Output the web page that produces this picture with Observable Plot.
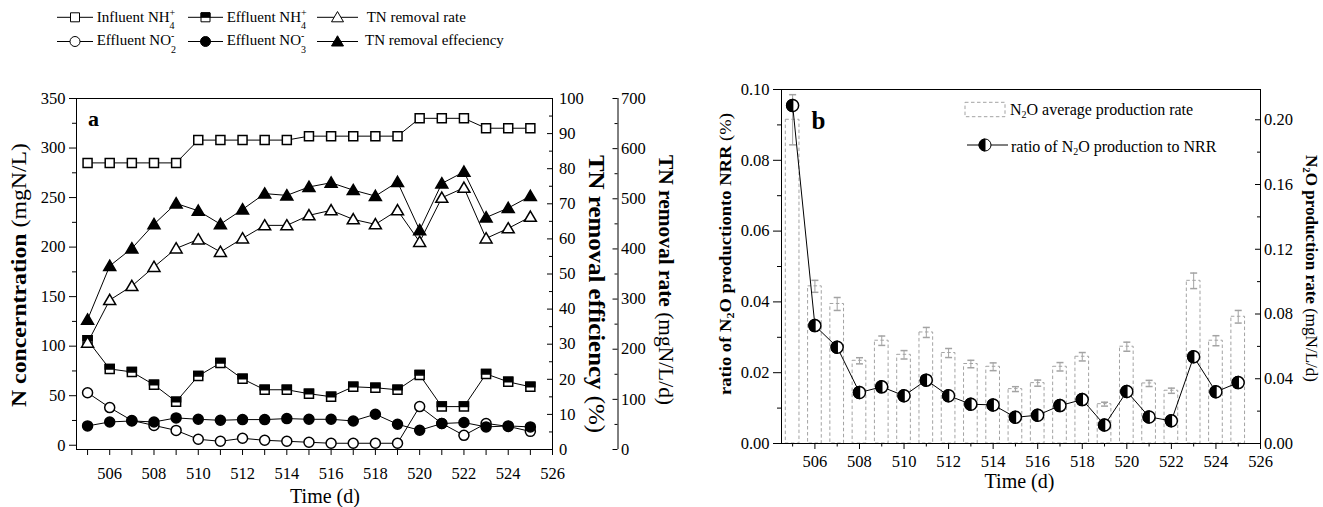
<!DOCTYPE html>
<html><head><meta charset="utf-8">
<script src="https://cdn.jsdelivr.net/npm/d3@7"></script>
<script src="https://cdn.jsdelivr.net/npm/@observablehq/plot@0.6"></script>
<style>
html,body{margin:0;padding:0;background:#fff;}
#chart{position:relative;width:1323px;height:507px;overflow:hidden;background:#fff;}
#chart svg{position:absolute;left:0;top:0;}
</style></head><body><div id="chart"></div>
<script>
// ---------------- data ----------------
const days = [505,506,507,508,509,510,511,512,513,514,515,516,517,518,519,520,521,522,523,524,525];
// panel a (mgN/L)
const influentNH4 = [285,285,285,285,285,308,308,308,308,308,312,312,312,312,312,330,330,330,320,320,320];
const effluentNH4 = [106,77,74,61,44,70,83,67,56,56,52,49,59,58,56,71,39,39,72,64,59];
const effluentNO2 = [53,38,25,20,15,6,4,7,5,4,3,2,2,2,2,39,22,10,22,19,14];
const effluentNO3 = [19.5,23.5,24.5,23.5,27.6,26.2,25.2,25.9,25.9,26.9,26.2,26.2,24.5,31.3,21.2,15.1,21.9,22.9,18.5,19.5,18.5];
// TN removal rate (mgN/L/d)
const tnRemovalRate = [213,298,326,364,401,419,394,421,447,447,467,477,459,449,477,414,502,522,421,441,464];
// TN removal efficiency (%)
const tnRemovalEff = [37,52.3,57.3,64.2,70.1,68,64.2,68.4,72.9,72.4,74.8,76,73.9,72.2,76.2,62.5,75.8,79.1,66.1,68.8,72.2];
// panel b
const n2oRatio = [0.0955,0.0333,0.0272,0.0144,0.0160,0.0135,0.0179,0.0135,0.0111,0.0109,0.0074,0.0080,0.0107,0.0124,0.0052,0.0147,0.0075,0.0064,0.0245,0.0146,0.0172];
const n2oRate = [0.200,0.0971,0.0862,0.0511,0.0635,0.0548,0.0686,0.0559,0.0491,0.0474,0.0336,0.0373,0.0474,0.0536,0.0243,0.0598,0.0371,0.0326,0.1005,0.0635,0.0783];
const n2oRateErr = [0.0155,0.0037,0.0040,0.0019,0.0029,0.0026,0.0031,0.0028,0.0023,0.0024,0.0015,0.0019,0.0026,0.0026,0.0012,0.0028,0.0019,0.0016,0.0048,0.0031,0.0039];
// tick values
const xDomain = [504.5, 526];
const xMajorTicks = [506,508,510,512,514,516,518,520,522,524,526];
const xMinorTicks = [505,507,509,511,513,515,517,519,521,523,525];
const concTicks = [0,50,100,150,200,250,300,350];
const concMinor = [25,75,125,175,225,275,325];
const effTicks = [0,10,20,30,40,50,60,70,80,90,100];
const effMinor = [5,15,25,35,45,55,65,75,85,95];
const rateTicks = [0,100,200,300,400,500,600,700];
const rateMinor = [50,150,250,350,450,550,650];
const ratioTicks = [0,0.02,0.04,0.06,0.08,0.10];
const ratioMinor = [0.01,0.03,0.05,0.07,0.09];
const n2oTicks = [0,0.04,0.08,0.12,0.16,0.20];
const n2oMinor = [0.02,0.06,0.10,0.14,0.18];

// ---------------- setup ----------------
const W = 1323, H = 507;
const FONT = "'Liberation Serif','Times New Roman',Times,serif";
const baseStyle = {fontFamily: FONT, fontSize: "16.5px", color: "black", background: "transparent", overflow: "visible"};
const chart = document.getElementById("chart");

function sym(fn) { return {draw(ctx, size) { fn(ctx, Math.sqrt(size / Math.PI)); }}; }
const squareSym = sym((c, r) => c.rect(-r, -r, 2 * r, 2 * r));
const squareTopSym = sym((c, r) => c.rect(-r, -r, 2 * r, r));
const triSym = sym((c, r) => { c.moveTo(0, -r * 1.15); c.lineTo(r * 1.2, r * 0.9); c.lineTo(-r * 1.2, r * 0.9); c.closePath(); });
const circleSym = sym((c, r) => { c.moveTo(r, 0); c.arc(0, 0, r, 0, 2 * Math.PI); c.closePath(); });
const halfLeftSym = sym((c, r) => { c.moveTo(0, -r); c.arc(0, 0, r, -Math.PI / 2, Math.PI / 2, true); c.closePath(); });
const capSym = sym((c, r) => { c.moveTo(-r, 0); c.lineTo(r, 0); });

const A = {left: 76, right: 552, top: 98, bottom: 449};
const AR = {left: 76, right: 617.5, top: 98, bottom: 449};
const B = {left: 781, right: 1260, top: 89, bottom: 443};

function box(b) {
  return {width: W, height: H, marginLeft: b.left, marginRight: W - b.right, marginTop: b.top, marginBottom: H - b.bottom, style: baseStyle};
}
const rows = (ys) => days.map((d, i) => ({day: d, v: ys[i]}));
const lineOpt = {x: "day", y: "v", stroke: "black", strokeWidth: 1};
const xy = {x: "day", y: "v"};
const fmtInt = d3.format("d"), fmt2 = d3.format(".2f");

const infRows = rows(influentNH4), effNRows = rows(effluentNH4), no2Rows = rows(effluentNO2), no3Rows = rows(effluentNO3);
const rateRows = rows(tnRemovalRate), effRows = rows(tnRemovalEff);
const ratioRows = rows(n2oRatio);
const barRows = days.map((d, i) => ({day: d, v: n2oRate[i], e: n2oRateErr[i]}));

// ---------------- panel a: left axis ----------------
chart.appendChild(Plot.plot({
  ...box(A),
  x: {domain: xDomain, axis: null},
  y: {domain: [-4.3, 350], axis: null},
  marks: [
    Plot.axisX(xMajorTicks, {tickSize: 6, tickPadding: 12, tickFormat: fmtInt, label: null}),
    Plot.axisX(xMinorTicks, {tickSize: 6, tickFormat: () => "", label: null}),
    Plot.axisY(concTicks, {anchor: "left", tickSize: 7, tickPadding: 4, tickFormat: fmtInt, label: null}),
    Plot.axisY(concMinor, {anchor: "left", tickSize: 4, tickFormat: () => "", label: null}),
    Plot.line(infRows, lineOpt),
    Plot.dot(infRows, {...xy, symbol: squareSym, r: 4.5, fill: "white", stroke: "black"}),
    Plot.line(effNRows, lineOpt),
    Plot.dot(effNRows, {...xy, symbol: squareSym, r: 4.5, fill: "white", stroke: "black"}),
    Plot.dot(effNRows, {...xy, symbol: squareTopSym, r: 4.5, fill: "black", stroke: "black"}),
    Plot.line(no2Rows, lineOpt),
    Plot.dot(no2Rows, {...xy, symbol: circleSym, r: 5, fill: "white", stroke: "black"}),
    Plot.line(no3Rows, lineOpt),
    Plot.dot(no3Rows, {...xy, symbol: circleSym, r: 5, fill: "black", stroke: "black"}),
    Plot.frame({stroke: "black"})
  ]
}));

// panel a: TN removal rate data
chart.appendChild(Plot.plot({
  ...box(A),
  x: {domain: xDomain, axis: null},
  y: {domain: [0, 700], axis: null},
  marks: [
    Plot.line(rateRows, lineOpt),
    Plot.dot(rateRows, {...xy, symbol: triSym, r: 5, fill: "white", stroke: "black"})
  ]
}));

// panel a: TN removal efficiency data + right axis
chart.appendChild(Plot.plot({
  ...box(A),
  x: {domain: xDomain, axis: null},
  y: {domain: [0, 100], axis: null},
  marks: [
    Plot.axisY(effTicks, {anchor: "right", tickSize: 0, tickPadding: 6.5, tickFormat: fmtInt, label: null}),
    Plot.ruleY(effTicks, {insetLeft: (A.right - A.left) - 5, stroke: "black"}),
    Plot.ruleY(effMinor, {insetLeft: (A.right - A.left) - 3, stroke: "black"}),
    Plot.line(effRows, lineOpt),
    Plot.dot(effRows, {...xy, symbol: triSym, r: 5, fill: "black", stroke: "black"})
  ]
}));

// panel a: offset TN removal rate axis
chart.appendChild(Plot.plot({
  ...box(AR),
  x: {domain: xDomain, axis: null},
  y: {domain: [0, 700], axis: null},
  marks: [
    Plot.ruleX([xDomain[1]], {stroke: "black"}),
    Plot.ruleY(rateTicks, {insetLeft: (AR.right - AR.left) - 5, stroke: "black"}),
    Plot.ruleY(rateMinor, {insetLeft: (AR.right - AR.left) - 3, stroke: "black"}),
    Plot.axisY(rateTicks, {anchor: "right", tickSize: 0, tickPadding: 3, tickFormat: fmtInt, label: null})
  ]
}));

// ---------------- panel b: bars + right axis ----------------
const bw = B.right - B.left;
chart.appendChild(Plot.plot({
  ...box(B),
  x: {domain: xDomain, axis: null},
  y: {domain: [0, 0.2187], axis: null},
  marks: [
    Plot.rect(barRows, {x1: d => d.day - 0.5, x2: d => d.day + 0.5, y1: 0, y2: "v", insetLeft: 4.3, insetRight: 4.3,
      fill: "none", stroke: "#a3a3a3", strokeWidth: 1, strokeDasharray: "3.5,2.5"}),
    Plot.ruleX(barRows, {x: "day", y1: d => d.v - d.e, y2: d => d.v + d.e, stroke: "#a3a3a3"}),
    Plot.dot(barRows, {x: "day", y: d => d.v + d.e, symbol: capSym, r: 3.5, stroke: "#a3a3a3", fill: "none"}),
    Plot.dot(barRows, {x: "day", y: d => d.v - d.e, symbol: capSym, r: 3.5, stroke: "#a3a3a3", fill: "none"}),
    Plot.axisY(n2oTicks, {anchor: "right", tickSize: 0, tickPadding: 3.5, tickFormat: fmt2, label: null}),
    Plot.ruleY(n2oTicks, {insetLeft: bw - 5, stroke: "black"}),
    Plot.ruleY(n2oMinor, {insetLeft: bw - 3, stroke: "black"})
  ]
}));

// panel b: ratio line + left axis
chart.appendChild(Plot.plot({
  ...box(B),
  x: {domain: xDomain, axis: null},
  y: {domain: [0, 0.1], axis: null},
  marks: [
    Plot.axisX(xMajorTicks, {tickSize: 6, tickPadding: 6, tickFormat: fmtInt, label: null}),
    Plot.axisX(xMinorTicks, {tickSize: 3.5, tickFormat: () => "", label: null}),
    Plot.axisY(ratioTicks, {anchor: "left", tickSize: 8, tickPadding: 4, tickFormat: fmt2, label: null}),
    Plot.axisY(ratioMinor, {anchor: "left", tickSize: 4, tickFormat: () => "", label: null}),
    Plot.line(ratioRows, lineOpt),
    Plot.dot(ratioRows, {...xy, symbol: circleSym, r: 6, fill: "white", stroke: "black"}),
    Plot.dot(ratioRows, {...xy, symbol: halfLeftSym, r: 6, fill: "black", stroke: "black"}),
    Plot.frame({stroke: "black"})
  ]
}));

// ---------------- titles & legends ----------------
const ov = d3.select(chart).append("svg").attr("width", W).attr("height", H)
  .style("font-family", FONT).style("white-space", "pre");

function txt(parts, {x, y, size, rotate = 0, anchor = "start", length = null, weight = "normal"}) {
  const t = ov.append("text")
    .attr("transform", `translate(${x},${y})` + (rotate ? ` rotate(${rotate})` : ""))
    .attr("text-anchor", anchor).attr("font-size", size).attr("font-weight", weight).attr("fill", "black");
  if (length) t.attr("textLength", length).attr("lengthAdjust", "spacingAndGlyphs");
  for (const p of parts) {
    const s = t.append("tspan").text(p.t);
    if (p.b) s.attr("font-weight", "bold");
    if (p.s) s.attr("font-size", p.s);
    if (p.dy) s.attr("dy", p.dy);
    if (p.dx) s.attr("dx", p.dx);
  }
  return t;
}
function symPath(s, r) { const p = d3.path(); s.draw(p, r * r * Math.PI); return p.toString(); }
function legSym(x1, x2, y, list) {
  ov.append("line").attr("x1", x1).attr("x2", x2).attr("y1", y).attr("y2", y).attr("stroke", "black");
  for (const [s, r, fill] of list) {
    ov.append("path").attr("d", symPath(s, r)).attr("transform", `translate(${(x1 + x2) / 2},${y})`)
      .attr("fill", fill).attr("stroke", fill === "none" ? "none" : "black");
  }
}

// legend a
legSym(57, 93, 17.3, [[squareSym, 4.5, "white"]]);
txt([{t: "Influent NH"}, {t: "4", s: 10, dy: 7.3}, {t: "+", s: 10, dx: -5, dy: -13.3}], {x: 96.7, y: 21.7, size: 15});
legSym(188, 223, 17.3, [[squareSym, 4.5, "white"], [squareTopSym, 4.5, "black"]]);
txt([{t: "Effluent NH"}, {t: "4", s: 10, dy: 7.3}, {t: "+", s: 10, dx: -5, dy: -13.3}], {x: 226.7, y: 21.7, size: 15});
legSym(317, 358, 17.3, [[triSym, 5, "white"]]);
txt([{t: "TN removal rate"}], {x: 366.7, y: 21.7, size: 15});
legSym(57, 93, 41.5, [[circleSym, 5, "white"]]);
txt([{t: "Effluent NO"}, {t: "2", s: 10, dy: 8}, {t: "-", s: 10, dx: -5, dy: -13.8}], {x: 96.7, y: 45, size: 15});
legSym(188, 223, 41.5, [[circleSym, 5, "black"]]);
txt([{t: "Effluent NO"}, {t: "3", s: 10, dy: 8}, {t: "-", s: 10, dx: -5, dy: -13.8}], {x: 226.7, y: 45, size: 15});
legSym(317, 358, 41.5, [[triSym, 5, "black"]]);
txt([{t: "TN  removal effeciency"}], {x: 365, y: 45, size: 15});

// axis titles a
txt([{t: "N concerntration", b: 1}, {t: " (mgN/L)"}], {x: 26, y: 275, size: 20, rotate: -90, anchor: "middle", length: 264});
txt([{t: "TN removal efficiency", b: 1}, {t: " (%)"}], {x: 589, y: 294, size: 24, rotate: 90, anchor: "middle", length: 278});
txt([{t: "TN removal rate", b: 1}, {t: " (mgN/L/d)"}], {x: 658.5, y: 280, size: 21, rotate: 90, anchor: "middle", length: 250});
txt([{t: "Time (d)"}], {x: 325, y: 503, size: 20, anchor: "middle"});
txt([{t: "a", b: 1}], {x: 88, y: 125.5, size: 22});

// panel b legend
ov.append("rect").attr("x", 965).attr("y", 102.3).attr("width", 40).attr("height", 14.4)
  .attr("fill", "none").attr("stroke", "#a3a3a3").attr("stroke-dasharray", "3.5,2.5");
txt([{t: "N"}, {t: "2", s: 10, dy: 3}, {t: "O average production rate", dy: -3}], {x: 1010, y: 115, size: 16});
ov.append("line").attr("x1", 967).attr("x2", 1008).attr("y1", 145).attr("y2", 145).attr("stroke", "black");
ov.append("path").attr("d", symPath(circleSym, 6)).attr("transform", "translate(985,145)").attr("fill", "white").attr("stroke", "black");
ov.append("path").attr("d", symPath(halfLeftSym, 6)).attr("transform", "translate(985,145)").attr("fill", "black").attr("stroke", "black");
txt([{t: "ratio of N"}, {t: "2", s: 10, dy: 3}, {t: "O production to NRR", dy: -3}], {x: 1011, y: 151.5, size: 16});

// axis titles b
txt([{t: "ratio of N", b: 1}, {t: "2", b: 1, s: 11, dy: 3}, {t: "O productionto NRR", b: 1, dy: -3}, {t: "  (%)"}],
  {x: 730.5, y: 254, size: 17, rotate: -90, anchor: "middle", length: 282});
txt([{t: "N", b: 1}, {t: "2", b: 1, s: 10, dy: 3}, {t: "O production rate", b: 1, dy: -3}, {t: " (mgN/L/d)"}],
  {x: 1306, y: 268.5, size: 16, rotate: 90, anchor: "middle", length: 227});
txt([{t: "Time (d)"}], {x: 1019.5, y: 488, size: 20, anchor: "middle"});
txt([{t: "b", b: 1}], {x: 811.5, y: 129.3, size: 25});
</script></body></html>
